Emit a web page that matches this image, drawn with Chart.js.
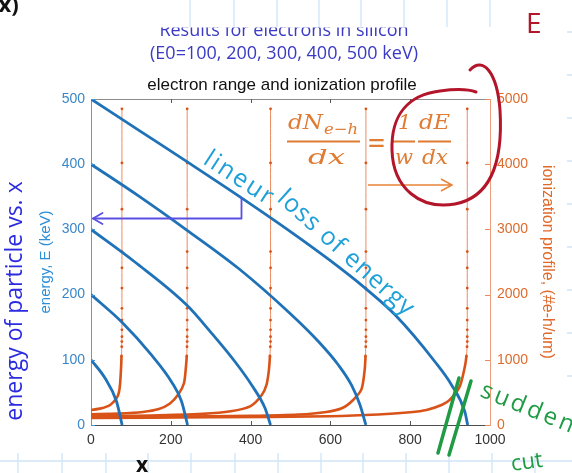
<!DOCTYPE html>
<html>
<head>
<meta charset="utf-8">
<script src="https://cdn.jsdelivr.net/npm/chart.js@4.4.1/dist/chart.umd.min.js"></script>
<style>
html,body{margin:0;padding:0;background:#fff;}
#wrap{position:relative;width:572px;height:473px;overflow:hidden;background:#fff;}
#c{position:absolute;left:0;top:0;}
#ov{position:absolute;left:0;top:0;pointer-events:none;}
</style>
</head>
<body>
<div id="wrap">
<canvas id="c" width="572" height="473"></canvas>
<svg id="ov" width="572" height="473" xmlns="http://www.w3.org/2000/svg">
  <defs><clipPath id="cut1"><rect x="0" y="27.5" width="572" height="30"/></clipPath></defs>
  <!-- notebook paper grid -->
  <g stroke="#cfe5f8" stroke-width="1.3" fill="none">
    <path d="M190 0V27M234 0V27M277 0V27M319 0V27M361 0V27M404 0V27M447 0V27M490 0V27"/>
    <path d="M0 461H572M18 453V473M62 453V473M106 453V473M148 453V473M191 453V473M235 453V473M278 453V473M321 453V473M363 453V473M406 453V473M449 453V473M492 453V473M535 453V473"/>
    <path d="M567 32H572M567 75H572M567 118H572M567 161H572M567 204H572M567 247H572M567 290H572M567 333H572M567 376H572M567 419H572"/>
  </g>
  <!-- slide titles -->
  <g font-family="Open Sans" font-size="18" fill="#3a3ac4" text-anchor="middle">
    <text x="284" y="36" clip-path="url(#cut1)">Results for electrons in silicon</text>
    <text x="284" y="59">(E0=100, 200, 300, 400, 500 keV)</text>
  </g>
  <text x="282" y="90" font-family="Liberation Sans" font-size="17" fill="#111" text-anchor="middle">electron range and ionization profile</text>
  <!-- handwritten notes -->
  <text transform="translate(22,301) rotate(-90)" font-family="Open Sans" font-size="23" fill="#2b2be0" text-anchor="middle">energy of particle vs. x</text>
  <text x="-9" y="12" font-family="Open Sans" font-size="22" font-weight="bold" fill="#111">(x)</text>
  <text x="136" y="472" font-family="Open Sans" font-size="21" font-weight="bold" fill="#111">x</text>
  <text x="526" y="33" font-family="Open Sans" font-size="28" fill="#b3152a">E</text>
  <g stroke="#5a4fe3" stroke-width="1.8" fill="none" stroke-linecap="round" stroke-linejoin="round">
    <path d="M241.5 198V218.5H93"/>
    <path d="M102.5 213L93 218.5L102.5 224"/>
  </g>
  <g fill="#1ea0d9" font-family="Open Sans" font-size="25">
    <text transform="translate(202,163) rotate(33)" letter-spacing="2">lineur</text>
    <text transform="translate(276,200) rotate(42)" letter-spacing="1">loss of energy</text>
  </g>
  <!-- equation -->
  <g fill="#e07b33" font-family="DejaVu Serif" font-style="italic">
    <text x="288" y="129" font-size="21" textLength="35" lengthAdjust="spacingAndGlyphs">dN</text>
    <text x="324" y="134" font-size="15" textLength="34" lengthAdjust="spacingAndGlyphs">e−h</text>
    <text x="308" y="164" font-size="21" textLength="37" lengthAdjust="spacingAndGlyphs">dx</text>
    <text x="367" y="152" font-size="27" font-style="normal" textLength="19" lengthAdjust="spacingAndGlyphs">=</text>
    <text x="398" y="129" font-size="21">1</text>
    <text x="395" y="164" font-size="21">w</text>
    <text x="419" y="129" font-size="21" textLength="31" lengthAdjust="spacingAndGlyphs">dE</text>
    <text x="422" y="164" font-size="21" textLength="26" lengthAdjust="spacingAndGlyphs">dx</text>
  </g>
  <g stroke="#e07b33" stroke-width="2"><path d="M287 141.5H360M393 141.5H415M418 141.5H451"/></g>
  <g stroke="#e8843a" stroke-width="1.5" fill="none"><path d="M368 185H452M441 179L452 185L441 191"/></g>
  <path d="M470 70C483 56 497 72 500 110C503 160 492 197 455 204C420 210 393 188 392 150C391 115 408 95 440 91C455 89 468 89 476 92" stroke="#b3152a" stroke-width="3" fill="none" stroke-linecap="round"/>
  <g stroke="#1e9b44" stroke-width="3.5" stroke-linecap="round"><path d="M459 378L438 453M471 381L449 455"/></g>
  <text transform="translate(479,396) rotate(22)" fill="#1e9b44" font-family="Open Sans" font-size="24" letter-spacing="3">sudden</text>
  <text transform="translate(512,471) rotate(-8)" fill="#1e9b44" font-family="Open Sans" font-size="22">cut</text>
</svg>
</div>
<script>
// ---- data ----
const depthTicks = [0, 200, 400, 600, 800, 1000];
const energyTicks = [0, 100, 200, 300, 400, 500];
const ionTicks = [0, 1000, 2000, 3000, 4000, 5000];
const beamEnergies = [100, 200, 300, 400, 500];

// energy E (keV) vs depth x (um)
const energy100Depth = [0, 35, 64, 78];
const energy100Value = [100, 72, 36, 0];
const energy200Depth = [0, 77, 152, 202, 227, 242];
const energy200Value = [200, 158, 107, 66, 36, 0];
const energy300Depth = [0, 110, 240, 302, 361, 403, 436, 450];
const energy300Value = [300, 250, 184, 141, 97, 61, 26, 0];
const energy400Depth = [0, 120, 240, 370, 499, 570, 620, 653, 674, 689];
const energy400Value = [400, 351, 299, 240, 171, 128, 92, 61, 31, 0];
const energy500Depth = [0, 125, 250, 378, 499, 600, 687, 762, 862, 904, 937, 944];
const energy500Value = [500, 450, 400, 348, 297, 252, 210, 169, 97, 61, 20, 0];

// ionization profile (#e-h/um) vs depth x (um)
const ion100Depth = [0, 25, 48, 64, 70, 73, 75.5, 76.5, 77, 77.3, 77.5, 77.5, 77.5, 77.5, 77.5, 77.5, 77.5, 77.5, 77.5, 77.5];
const ion100Value = [230, 255, 307, 409, 500, 640, 895, 1060, 1200, 1280, 1355, 1460, 1610, 1790, 2100, 2410, 2660, 3310, 4020, 4850];
const ion200Depth = [0, 70, 130, 170, 198, 219, 233, 238, 240, 240.6, 241, 241, 241, 241, 241, 241, 241, 241, 241, 241, 241];
const ion200Value = [165, 175, 200, 245, 330, 470, 640, 895, 1060, 1200, 1280, 1355, 1460, 1610, 1790, 2100, 2410, 2660, 3310, 4020, 4850];
const ion300Depth = [0, 150, 280, 350, 400, 428, 440, 446, 448.5, 449.5, 450, 450, 450, 450, 450, 450, 450, 450, 450, 450, 450];
const ion300Value = [135, 145, 170, 210, 290, 460, 620, 850, 1060, 1200, 1280, 1355, 1460, 1610, 1790, 2100, 2410, 2660, 3310, 4020, 4850];
const ion400Depth = [0, 200, 400, 520, 590, 630, 657, 678, 686, 688, 688.6, 689, 689, 689, 689, 689, 689, 689, 689, 689, 689, 689];
const ion400Value = [120, 128, 140, 160, 200, 260, 384, 550, 850, 1060, 1200, 1280, 1355, 1460, 1610, 1790, 2100, 2410, 2660, 3310, 4020, 4850];
const ion500Depth = [0, 300, 600, 720, 800, 841, 880, 899, 924, 937, 941, 942.5, 943, 943, 943, 943, 943, 943, 943, 943, 943, 943, 943];
const ion500Value = [110, 118, 135, 160, 195, 230, 310, 384, 588, 895, 1060, 1200, 1280, 1355, 1460, 1610, 1790, 2100, 2410, 2660, 3310, 4020, 4850];

// ---- build chart ----
const BLUE = '#1f72b7';
const ORANGE = '#d95319';
const FONT = 'Liberation Sans';
function pairs(xs, ys) { return xs.map((x, i) => ({ x: x, y: ys[i] })); }

const energySets = [
  [energy100Depth, energy100Value], [energy200Depth, energy200Value], [energy300Depth, energy300Value],
  [energy400Depth, energy400Value], [energy500Depth, energy500Value]
];
const ionSets = [
  [ion100Depth, ion100Value], [ion200Depth, ion200Value], [ion300Depth, ion300Value],
  [ion400Depth, ion400Value], [ion500Depth, ion500Value]
];

const datasets = [];
energySets.forEach((s, i) => datasets.push({
  label: 'E0=' + beamEnergies[i] + ' keV',
  data: pairs(s[0], s[1]), xAxisID: 'x', yAxisID: 'y',
  borderColor: BLUE, borderWidth: 2.8, pointRadius: 0,
  cubicInterpolationMode: 'monotone', fill: false
}));
ionSets.forEach((s, i) => datasets.push({
  label: 'ionization ' + beamEnergies[i] + ' keV',
  data: pairs(s[0], s[1]), xAxisID: 'x', yAxisID: 'y1',
  borderColor: ORANGE, borderWidth: 2.6, tension: 0.25, fill: false,
  pointRadius: ctx => (ctx.parsed && ctx.parsed.y >= 1000) ? 1.4 : 0,
  pointBackgroundColor: ORANGE, pointBorderWidth: 0,
  segment: {
    borderWidth: ctx => (ctx.p0.parsed.y >= 1000 && ctx.p1.parsed.y >= 1000) ? 1 : 2.6,
    borderColor: ctx => (ctx.p0.parsed.y >= 1000 && ctx.p1.parsed.y >= 1000) ? '#ec8a60' : ORANGE
  }
}));

const frameTicks = {
  id: 'frameTicks',
  afterDatasetsDraw(chart) {
    const { ctx, chartArea: a, scales } = chart;
    ctx.save();
    ctx.lineWidth = 1;
    ctx.strokeStyle = '#8c8c8c';
    ctx.beginPath(); ctx.moveTo(a.left, a.top + 0.5); ctx.lineTo(a.right, a.top + 0.5); ctx.stroke();
    ctx.strokeStyle = '#555';
    ctx.beginPath();
    depthTicks.forEach(v => {
      const px = Math.round(scales.x.getPixelForValue(v)) + 0.5;
      if (v === depthTicks[0] || v === depthTicks[depthTicks.length - 1]) return;
      ctx.moveTo(px, a.bottom); ctx.lineTo(px, a.bottom - 4);
      ctx.moveTo(px, a.top); ctx.lineTo(px, a.top + 4);
    });
    ctx.stroke();
    ctx.strokeStyle = '#3f95d8';
    ctx.beginPath();
    energyTicks.forEach(v => {
      const py = Math.round(scales.y.getPixelForValue(v)) + 0.5;
      ctx.moveTo(a.left, py); ctx.lineTo(a.left + 4, py);
    });
    ctx.stroke();
    ctx.strokeStyle = '#e98a5c';
    ctx.beginPath();
    ionTicks.forEach(v => {
      const py = Math.round(scales.y1.getPixelForValue(v)) + 0.5;
      ctx.moveTo(a.right, py); ctx.lineTo(a.right - 5, py);
    });
    ctx.stroke();
    ctx.restore();
  }
};

new Chart(document.getElementById('c'), {
  type: 'line',
  data: { datasets: datasets },
  options: {
    responsive: false, animation: false, devicePixelRatio: 1,
    layout: { padding: { top: 99, left: 33, right: 11, bottom: 0 } },
    plugins: { legend: { display: false }, title: { display: false }, tooltip: { enabled: false } },
    scales: {
      x: {
        type: 'linear', position: 'bottom', min: 0, max: 1000,
        afterBuildTicks: s => { s.ticks = depthTicks.map(v => ({ value: v })); },
        afterFit: s => { s.height = 48; s.paddingLeft = 0; s.paddingRight = 0; },
        ticks: { color: '#333', font: { family: FONT, size: 14 }, padding: 7, maxRotation: 0, autoSkip: false, callback: v => String(v) },
        grid: { display: false, drawTicks: false },
        border: { display: true, color: '#4d4d4d', width: 1 }
      },
      y: {
        type: 'linear', position: 'left', min: 0, max: 500,
        afterBuildTicks: s => { s.ticks = energyTicks.map(v => ({ value: v })); },
        afterFit: s => { s.width = 58; s.paddingTop = 0; s.paddingBottom = 0; },
        ticks: { color: '#3a86c9', font: { family: FONT, size: 14 }, padding: 6, callback: v => String(v) },
        title: { display: true, text: 'energy, E (keV)', color: '#2d8fd8', font: { family: FONT, size: 15 }, padding: { top: 4, bottom: 0 } },
        grid: { display: false, drawTicks: false },
        border: { display: true, color: '#4aa3e2', width: 1 }
      },
      y1: {
        type: 'linear', position: 'right', min: 0, max: 5000,
        afterBuildTicks: s => { s.ticks = ionTicks.map(v => ({ value: v })); },
        afterFit: s => { s.width = 71; s.paddingTop = 0; s.paddingBottom = 0; },
        ticks: { color: '#dd6b2d', font: { family: FONT, size: 14 }, padding: 7, callback: v => String(v) },
        title: { display: true, text: 'ionization profile, (#e-h/um)', color: '#e0692a', font: { family: FONT, size: 16 }, padding: { top: 4, bottom: 0 } },
        grid: { display: false, drawTicks: false },
        border: { display: true, color: '#ef9c78', width: 1 }
      }
    }
  },
  plugins: [frameTicks]
});
</script>
</body>
</html>
